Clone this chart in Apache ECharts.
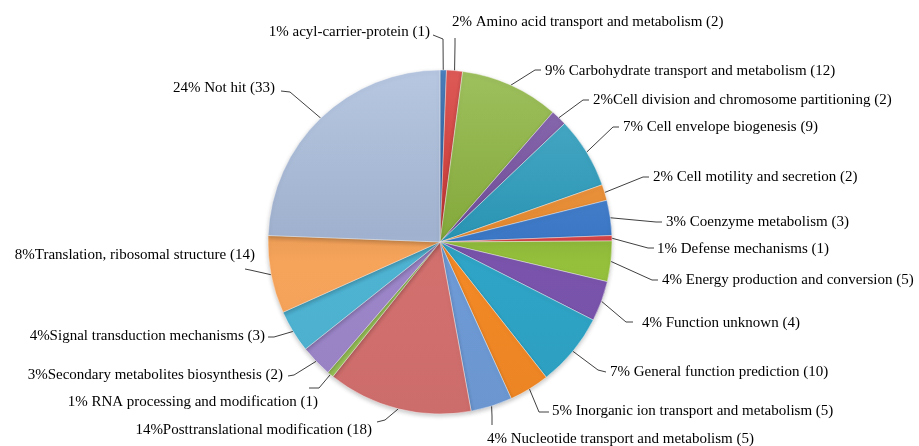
<!DOCTYPE html>
<html>
<head>
<meta charset="utf-8">
<script src="https://cdn.jsdelivr.net/npm/echarts@6/dist/echarts.min.js"></script>
<style>
html,body{margin:0;padding:0;background:#ffffff;}
#chart{width:919px;height:446px;}
</style>
</head>
<body>
<div id="chart"></div>
<script>
// ---- data (clockwise from 12 o'clock) ----
const categories = [
  'acyl-carrier-protein',
  'Amino acid transport and metabolism',
  'Carbohydrate transport and metabolism',
  'Cell division and chromosome partitioning',
  'Cell envelope biogenesis',
  'Cell motility and secretion',
  'Coenzyme metabolism',
  'Defense mechanisms',
  'Energy production and conversion',
  'Function unknown',
  'General function prediction',
  'Inorganic ion transport and metabolism',
  'Nucleotide transport and metabolism',
  'Posttranslational modification',
  'RNA processing and modification',
  'Secondary metabolites biosynthesis',
  'Signal transduction mechanisms',
  'Translation, ribosomal structure',
  'Not hit'
];
// slice sizes (share of the full circle, %), measured from slice angles
const shares = [0.6, 1.5, 9.3, 1.5, 6.7, 1.5, 3.3, 0.5, 3.8, 3.8, 6.9, 3.8, 3.9, 13.6, 0.6, 3.0, 4.0, 7.3, 24.4];
// label texts as printed
const labelTexts = [
  '1% acyl-carrier-protein (1)',
  '2% Amino acid transport and metabolism (2)',
  '9% Carbohydrate transport and metabolism (12)',
  '2%Cell division and chromosome partitioning (2)',
  '7% Cell envelope biogenesis (9)',
  '2% Cell motility and secretion (2)',
  '3% Coenzyme metabolism (3)',
  '1% Defense mechanisms (1)',
  '4% Energy production and conversion (5)',
  '4% Function unknown (4)',
  '7% General function prediction (10)',
  '5% Inorganic ion transport and metabolism (5)',
  '4% Nucleotide transport and metabolism (5)',
  '14%Posttranslational modification (18)',
  '1% RNA processing and modification (1)',
  '3%Secondary metabolites biosynthesis (2)',
  '4%Signal transduction mechanisms (3)',
  '8%Translation, ribosomal structure (14)',
  '24% Not hit (33)'
];

// ---- styles / layout ----
const colors = [
  '#2F6EBA', '#D63B37', '#8CB43F', '#7752A3', '#2E9EBF', '#F29133',
  '#3F7FD2', '#E0484A', '#95C23D', '#7B55AE', '#2FA6C8', '#F58A26',
  '#6F9CD8', '#D4716F', '#9CC75A', '#9E87CB', '#4FB5D4', '#F9A65C',
  '#A9BCDB'
];
// label placement: [textX, textY, align, lineEndX, lineEndY, elbowX, elbowY]
const labelPlacement = [
  [430, 32, 'right', 433, 35, 443, 39],
  [452, 22, 'left', 455, 38, 455, 45],
  [545, 71, 'left', 541, 70, 535, 70],
  [593, 100, 'left', 589, 100, 583, 100],
  [623, 127, 'left', 619, 127, 613, 127],
  [653, 177, 'left', 649, 177, 643, 177],
  [666, 222, 'left', 662, 222, 656, 222],
  [657, 249, 'left', 654, 248, 648, 248],
  [662, 280, 'left', 658, 280, 652, 280],
  [642, 323, 'left', 633, 322, 626, 322],
  [610, 372, 'left', 606, 372, 598, 370],
  [552, 411, 'left', 549, 412, 539, 412],
  [487, 439, 'left', 492, 425, 492, 416],
  [372, 430, 'right', 377, 422, 385, 420],
  [318, 402, 'right', 309, 388, 319, 388],
  [283, 375, 'right', 288, 376, 294, 375],
  [265, 336, 'right', 268, 337, 274, 337],
  [255, 255, 'right', 245, 269, 250, 270],
  [275, 88, 'right', 281, 91, 290, 92]
];

function shade(hex, amt) {
  const n = parseInt(hex.slice(1), 16);
  let r = (n >> 16) & 255, g = (n >> 8) & 255, b = n & 255;
  const f = (c) => {
    const v = amt >= 0 ? c + (255 - c) * amt : c * (1 + amt);
    return Math.max(0, Math.min(255, Math.round(v)));
  };
  return 'rgb(' + f(r) + ',' + f(g) + ',' + f(b) + ')';
}
function fillFor(hex) {
  return {
    type: 'linear', x: 0, y: 70, x2: 0, y2: 414, global: true,
    colorStops: [
      { offset: 0, color: shade(hex, 0.16) },
      { offset: 0.48, color: shade(hex, -0.06) },
      { offset: 0.56, color: shade(hex, -0.01) },
      { offset: 1, color: shade(hex, -0.04) }
    ]
  };
}

const seriesData = categories.map((name, i) => ({
  name: name,
  value: shares[i],
  itemStyle: { color: fillFor(colors[i]) }
}));

const chart = echarts.init(document.getElementById('chart'), null, { renderer: 'canvas' });
chart.setOption({
  animation: false,
  backgroundColor: '#ffffff',
  series: [{
    type: 'pie',
    center: [440, 242],
    radius: 172,
    startAngle: 90,
    clockwise: true,
    avoidLabelOverlap: false,
    minShowLabelAngle: 0,
    data: seriesData,
    itemStyle: {
      borderColor: 'rgba(255,255,255,0.4)',
      borderWidth: 1,
      shadowBlur: 4,
      shadowOffsetY: 2,
      shadowColor: 'rgba(0,0,0,0.22)'
    },
    label: {
      show: true,
      position: 'outside',
      formatter: (p) => labelTexts[p.dataIndex],
      fontFamily: 'Liberation Serif',
      fontSize: 15,
      color: '#000000'
    },
    labelLine: {
      show: true,
      length: 10,
      length2: 10,
      lineStyle: { color: '#404040', width: 1 }
    },
    labelLayout: function (p) {
      const L = labelPlacement[p.dataIndex];
      const edge = (p.labelLinePoints && p.labelLinePoints[0]) ? p.labelLinePoints[0] : [L[5], L[6]];
      return {
        x: L[0],
        y: L[1],
        align: L[2],
        verticalAlign: 'middle',
        labelLinePoints: [[edge[0], edge[1]], [L[5], L[6]], [L[3], L[4]]]
      };
    },
    emphasis: { disabled: true }
  }]
});
</script>
</body>
</html>
